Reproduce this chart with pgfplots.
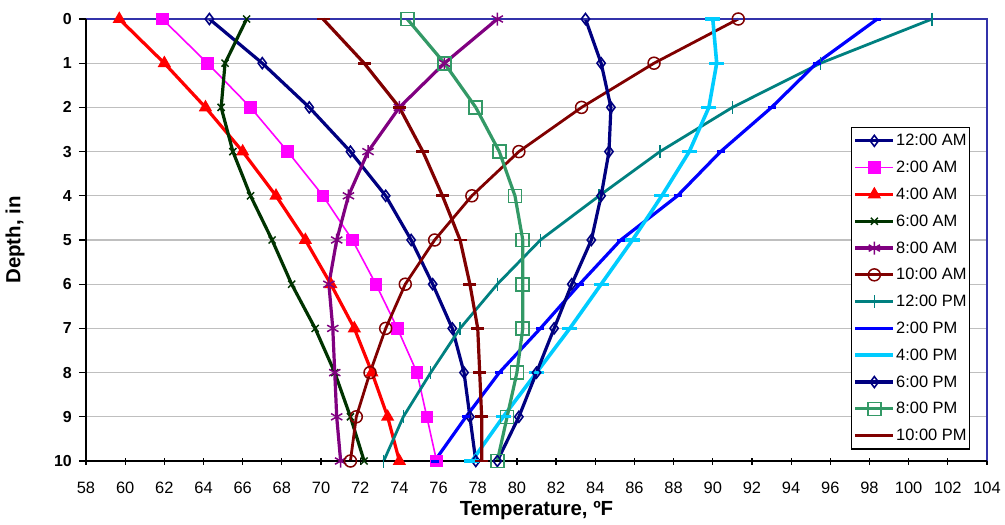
\documentclass[border=0pt]{standalone}
\usepackage{fontspec}
\setmainfont{Liberation Sans}
\usepackage{pgfplots}
\pgfplotsset{compat=1.18}

\definecolor{cNavy}{HTML}{000080}
\definecolor{cMag}{HTML}{FF00FF}
\definecolor{cRed}{HTML}{FF0000}
\definecolor{cDkGreen}{HTML}{003300}
\definecolor{cPurple}{HTML}{800080}
\definecolor{cMaroon}{HTML}{800000}
\definecolor{cTeal}{HTML}{008080}
\definecolor{cBlue}{HTML}{0000FF}
\definecolor{cCyan}{HTML}{00CCFF}
\definecolor{cSea}{HTML}{339966}
\definecolor{cFrame}{HTML}{3333AA}

\begin{document}
\begin{tikzpicture}
\begin{axis}[
    name=ax,
    width=901bp, height=442bp, scale only axis,
    xmin=58, xmax=104, ymin=0, ymax=10,
    y dir=reverse,
    xtick={58,60,...,104}, ytick={0,1,...,10},
    axis line style={draw=none},
    tick align=outside, major tick length=7bp,
    xtick pos=bottom, ytick pos=left,
    tick style={black, line width=1.2bp},
    xtick style={yshift=3.5bp},
    ymajorgrids, grid style={draw=black!25, line width=1.2bp},
    /pgf/number format/assume math mode=true,
    xticklabel style={font=\fontsize{16.5}{18}\selectfont, anchor=base, yshift=-25.5bp},
    yticklabel style={font=\fontsize{16}{18}\selectfont\bfseries, anchor=east, inner sep=0pt, xshift=-7bp},
    xlabel={Temperature, ºF},
    ylabel={Depth, in},
    xlabel style={font=\fontsize{20.5}{22}\selectfont\bfseries, at={(axis description cs:0.5,-0.112)}, anchor=center},
    ylabel style={font=\fontsize{20.5}{22}\selectfont\bfseries, at={(axis description cs:-0.0788,0.5)}, anchor=center},
    clip=false,
    legend style={at={(axis description cs:0.849,0.756)}, anchor=north west,
        draw=black, line width=1.2bp, inner xsep=2bp, inner ysep=0bp,
        font=\fontsize{16.5}{18}\selectfont,
        nodes={inner xsep=1bp, inner ysep=0pt, minimum height=26.8bp},
        row sep=0pt},
    legend cell align=left,
    legend image code/.code={\draw[mark repeat=2,mark phase=2] plot coordinates {(0bp,0bp) (19bp,0bp) (38bp,0bp)};},
]
% 12:00 AM
\addplot[cNavy, line width=3.2bp, mark=diamond, mark size=5.5bp, mark options={line width=1.6bp}] coordinates {
 (64.3,0) (67.0,1) (69.4,2) (71.5,3) (73.3,4) (74.6,5) (75.7,6) (76.7,7) (77.3,8) (77.6,9) (77.9,10)};
% 2:00 AM
\addplot[cMag, line width=1.6bp, mark=square*, mark size=5.5bp] coordinates {
 (61.9,0) (64.2,1) (66.4,2) (68.3,3) (70.1,4) (71.6,5) (72.8,6) (73.9,7) (74.9,8) (75.4,9) (75.9,10)};
% 4:00 AM
\addplot[cRed, line width=3.2bp, mark=triangle*, mark size=4.5bp] coordinates {
 (59.7,0) (62.0,1) (64.1,2) (66.0,3) (67.7,4) (69.2,5) (70.5,6) (71.7,7) (72.6,8) (73.4,9) (74.0,10)};
% 6:00 AM
\addplot[cDkGreen, line width=3.2bp, mark=x, mark size=5bp, mark options={line width=1.5bp}] coordinates {
 (66.2,0) (65.1,1) (64.9,2) (65.5,3) (66.4,4) (67.5,5) (68.5,6) (69.7,7) (70.7,8) (71.5,9) (72.2,10)};
% 8:00 AM
\addplot[cPurple, line width=3.2bp, mark=asterisk, mark size=6.5bp, mark options={line width=1.5bp}] coordinates {
 (79.0,0) (76.3,1) (74.0,2) (72.4,3) (71.4,4) (70.8,5) (70.4,6) (70.6,7) (70.7,8) (70.8,9) (71.0,10)};
% 10:00 AM
\addplot[cMaroon, line width=2.8bp, mark=o, mark size=6bp, mark options={line width=1.5bp}] coordinates {
 (91.3,0) (87.0,1) (83.3,2) (80.1,3) (77.7,4) (75.8,5) (74.3,6) (73.3,7) (72.5,8) (71.8,9) (71.5,10)};
% 12:00 PM
\addplot[cTeal, line width=2.8bp, mark=|, mark size=6.5bp, mark options={line width=1.4bp}] coordinates {
 (101.2,0) (95.5,1) (91.0,2) (87.3,3) (84.2,4) (81.2,5) (79.0,6) (77.1,7) (75.6,8) (74.2,9) (73.2,10)};
% 2:00 PM
\addplot[cBlue, line width=3.2bp, mark=-, mark size=4bp, mark options={line width=3bp}] coordinates {
 (98.4,0) (95.3,1) (93.0,2) (90.4,3) (88.2,4) (85.3,5) (83.2,6) (81.2,7) (79.1,8) (77.4,9) (75.8,10)};
% 4:00 PM
\addplot[cCyan, line width=3.6bp, mark=-, mark size=7.5bp, mark options={line width=3.2bp}] coordinates {
 (90.0,0) (90.2,1) (89.8,2) (88.8,3) (87.4,4) (85.9,5) (84.3,6) (82.7,7) (81.0,8) (79.3,9) (77.7,10)};
% 6:00 PM
\addplot[cNavy, line width=3.2bp, mark=diamond, mark size=5.5bp, mark options={line width=1.6bp}] coordinates {
 (83.5,0) (84.3,1) (84.8,2) (84.7,3) (84.3,4) (83.8,5) (82.8,6) (81.9,7) (81.0,8) (80.1,9) (79.0,10)};
% 8:00 PM
\addplot[cSea, line width=3.2bp, mark=square, mark size=6.5bp, mark options={line width=1.6bp}] coordinates {
 (74.4,0) (76.3,1) (77.9,2) (79.1,3) (79.9,4) (80.3,5) (80.3,6) (80.3,7) (80.0,8) (79.5,9) (79.0,10)};
% 10:00 PM
\addplot[cMaroon, line width=3.2bp, mark=-, mark size=6.5bp, mark options={line width=2.8bp}] coordinates {
 (70.1,0) (72.2,1) (74.0,2) (75.2,3) (76.2,4) (77.1,5) (77.6,6) (78.0,7) (78.1,8) (78.2,9) (78.2,10)};

\legend{12:00 AM, 2:00 AM, 4:00 AM, 6:00 AM, 8:00 AM, 10:00 AM, 12:00 PM, 2:00 PM, 4:00 PM, 6:00 PM, 8:00 PM, 10:00 PM}

% frame
\draw[cFrame, line width=1.5bp] (axis cs:58,0) -- (axis cs:104,0) -- (axis cs:104,10);
\draw[black, line width=2bp] (axis cs:58,0) -- (axis cs:58,10) -- (axis cs:104,10);
\end{axis}
\pgfresetboundingbox
\path[use as bounding box] ([xshift=-86bp,yshift=-64bp]ax.south west) rectangle ([xshift=18bp,yshift=19bp]ax.north east);
\end{tikzpicture}
\end{document}
